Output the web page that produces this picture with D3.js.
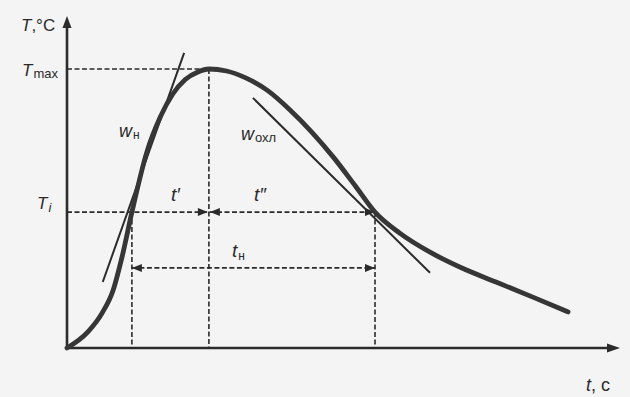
<!DOCTYPE html>
<html><head><meta charset="utf-8">
<script src="https://cdn.jsdelivr.net/npm/d3@7"></script>
<style>
html,body{margin:0;padding:0;background:#f4f4f4;}
svg{display:block;}
text{font-family:"Liberation Sans",Arial,sans-serif;fill:#2a2a2a;}
</style></head>
<body>
<svg id="c" width="630" height="397"></svg>
<script>
// thermal cycle curve, t (s) vs T (°C)
const curveT = [0, 3.8, 6.4, 8.4, 10.0, 11.8, 14.5, 17.0, 19.2, 21.5, 23.8, 25.8, 29.0, 32.5, 36.5, 40.5, 44.5, 48.5, 52.5, 56.0, 60.5, 66.0, 71.5, 78.0, 84.7, 91.1];
const curveTemp = [0, 49, 107, 177, 277, 414, 596, 705, 773, 818, 841, 850, 844, 823, 784, 726, 658, 580, 492, 414, 350, 292, 246, 201, 155, 110];
const Tmax = 850, Ti = 414;
const tStart = 11.8, tPeak = 25.8, tEnd = 56.0;
const tH_level = 244;
const tangentHeat = [[6.5, 201], [21.3, 899]];
const tangentCool = [[33.8, 762], [66.0, 229]];

const svg = d3.select("#c");
const x = d3.scaleLinear().domain([0, 100]).range([67, 617]);
const y = d3.scaleLinear().domain([0, Tmax]).range([348, 69]);
const ink = "#2b2b2b";

function arrowHead(px, py, dir, len = 10, w = 4) {
  let pts;
  if (dir === 'r') pts = [[px, py], [px - len, py - w], [px - len, py + w]];
  if (dir === 'l') pts = [[px, py], [px + len, py - w], [px + len, py + w]];
  if (dir === 'u') pts = [[px, py], [px - w, py + len], [px + w, py + len]];
  svg.append("path").attr("d", d3.line()(pts) + "Z").attr("fill", ink);
}

const dash = "5,2.5";
function dline(x1, y1, x2, y2) {
  svg.append("line").attr("x1", x1).attr("y1", y1).attr("x2", x2).attr("y2", y2)
    .attr("stroke", ink).attr("stroke-width", 1.6).attr("stroke-dasharray", dash);
}
dline(x(0), y(Tmax), x(tPeak), y(Tmax));
dline(x(tPeak), y(Tmax), x(tPeak), y(0));
dline(x(0), y(Ti), x(tEnd), y(Ti));
dline(x(tStart), y(Ti), x(tStart), y(0));
dline(x(tEnd), y(Ti), x(tEnd), y(0));
dline(x(tStart), y(tH_level), x(tEnd), y(tH_level));

arrowHead(x(tPeak) - 1, y(Ti), 'r');
arrowHead(x(tPeak) + 1, y(Ti), 'l');
arrowHead(x(tEnd), y(Ti), 'r');
arrowHead(x(tStart), y(tH_level), 'l');
arrowHead(x(tEnd), y(tH_level), 'r');

// axes
svg.append("line").attr("x1", x(0)).attr("y1", y(0) + 1).attr("x2", x(0)).attr("y2", 24)
  .attr("stroke", ink).attr("stroke-width", 2.6);
arrowHead(x(0), 16, 'u', 12, 4.5);
svg.append("line").attr("x1", x(0) - 1).attr("y1", y(0)).attr("x2", 608).attr("y2", y(0))
  .attr("stroke", ink).attr("stroke-width", 2.6);
arrowHead(620, y(0), 'r', 13, 4.5);

// tangents
const lineGen = d3.line().x(d => x(d[0])).y(d => y(d[1]));
svg.append("path").attr("d", lineGen(tangentHeat)).attr("stroke", ink).attr("stroke-width", 2).attr("fill", "none");
svg.append("path").attr("d", lineGen(tangentCool)).attr("stroke", ink).attr("stroke-width", 2).attr("fill", "none");

// main curve
const pts = curveT.map((t, i) => [t, curveTemp[i]]);
svg.append("path")
  .attr("d", d3.line().x(d => x(d[0])).y(d => y(d[1])).curve(d3.curveMonotoneX)(pts))
  .attr("stroke", "#363636").attr("stroke-width", 4.8).attr("fill", "none").attr("stroke-linecap", "round");

function label(px, py, parts) {
  const t = svg.append("text").attr("x", px).attr("y", py);
  parts.forEach(p => {
    const s = t.append("tspan").text(p.t).attr("font-size", p.s || 17);
    if (p.i) s.attr("font-style", "italic");
    if (p.dy) s.attr("dy", p.dy);
    if (p.dx) s.attr("dx", p.dx);
  });
}
label(21, 31, [{t: "T", i: 1}, {t: ",°C"}]);
label(22, 76, [{t: "T", i: 1}, {t: "max", s: 13, dy: 2, dx: 1}]);
label(37, 209, [{t: "T", i: 1}, {t: "i", s: 13, i: 1, dy: 3, dx: 1}]);
label(119, 137, [{t: "w", i: 1, s: 18}, {t: "н", s: 12, dy: 2, dx: 1}]);
label(241, 140, [{t: "w", i: 1, s: 18}, {t: "охл", s: 13, dy: 2, dx: 1}]);
label(171, 201, [{t: "t′", i: 1, s: 19}]);
label(254, 201, [{t: "t″", i: 1, s: 19}]);
label(232, 257, [{t: "t", i: 1, s: 19}, {t: "н", s: 12, dy: 3, dx: 1}]);
label(586, 391, [{t: "t", i: 1, s: 18}, {t: ", с", s: 18}]);
</script>
</body></html>
